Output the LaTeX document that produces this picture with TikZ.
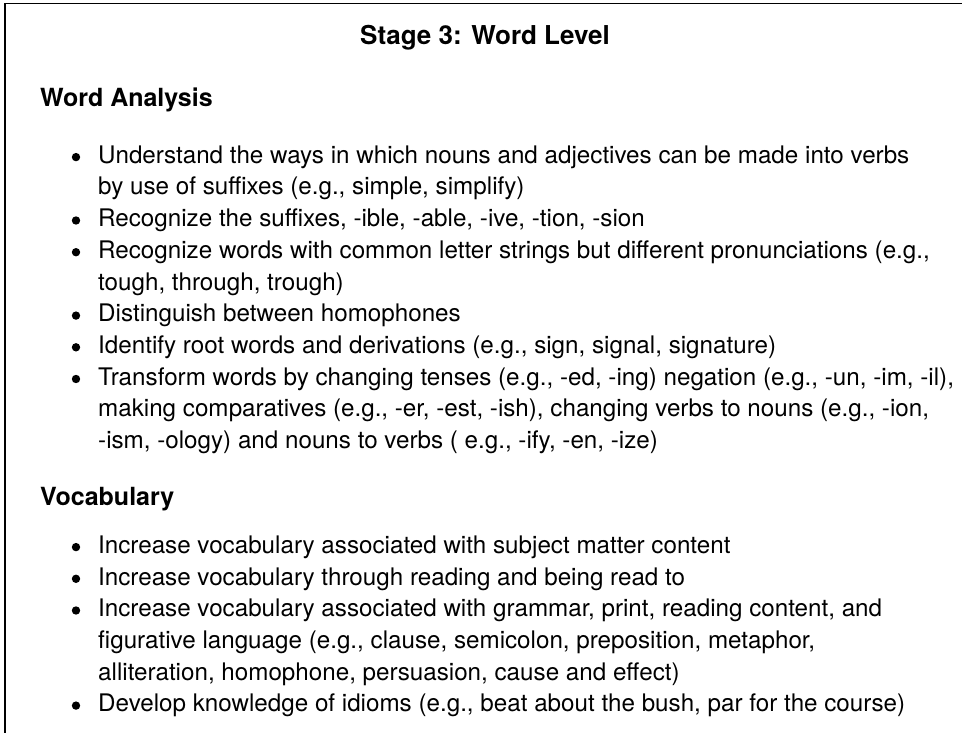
\documentclass[tikz,border=0pt]{standalone}
\usepackage{fontspec}
\setmainfont{TeX Gyre Heros}
\begin{document}
\begin{tikzpicture}[x=1pt,y=-1pt,
  frame/.style={line width=1.5pt,black},
  title/.style={anchor=base,inner sep=0pt,font=\fontsize{26}{30}\selectfont\bfseries},
  heading/.style={anchor=base west,inner sep=0pt,font=\fontsize{25}{29}\selectfont\bfseries},
  line/.style={anchor=base west,inner sep=0pt,font=\fontsize{24.2}{29}\selectfont},
  dot/.style={circle,fill=black,inner sep=0pt,minimum size=8.4pt}]
\useasboundingbox (0,0) rectangle (962,733);
\fill[white] (0,0) rectangle (962,733);
% open frame: left and top edges only
\draw[frame] (5,740) -- (5,3.5) -- (970,3.5);

\node[title] (ttl) at (485,45) {Stage 3: Word Level};

% Word Analysis
\node[heading] (hwa) at (40,106.7) {Word Analysis};
\def\lx{98}
\def\bx{76}
\node[line] (wa1a) at (\lx,163.3) {Understand the ways in which nouns and adjectives can be made into verbs};
\node[line] (wa1b) at (\lx,195.0) {by use of suffixes (e.g., simple, simplify)};
\node[line] (wa2)  at (\lx,226.7) {Recognize the suffixes, -ible, -able, -ive, -tion, -sion};
\node[line] (wa3a) at (\lx,258.4) {Recognize words with common letter strings but different pronunciations (e.g.,};
\node[line] (wa3b) at (\lx,290.1) {tough, through, trough)};
\node[line] (wa4)  at (\lx,321.8) {Distinguish between homophones};
\node[line] (wa5)  at (\lx,353.5) {Identify root words and derivations (e.g., sign, signal, signature)};
\node[line] (wa6a) at (\lx,385.2) {Transform words by changing tenses (e.g., -ed, -ing) negation (e.g., -un, -im, -il),};
\node[line] (wa6b) at (\lx,416.9) {making comparatives (e.g., -er, -est, -ish), changing verbs to nouns (e.g., -ion,};
\node[line] (wa6c) at (\lx,448.6) {-ism, -ology) and nouns to verbs ( e.g., -ify, -en, -ize)};
\foreach \yy/\nm in {163.3/1,226.7/2,258.4/3,321.8/4,353.5/5,385.2/6}
  \node[dot] (wab\nm) at (\bx,\yy-6.2) {};

% Vocabulary
\node[heading] (hvo) at (40,505.5) {Vocabulary};
\node[line] (vo1)  at (\lx,553.3) {Increase vocabulary associated with subject matter content};
\node[line] (vo2)  at (\lx,585.0) {Increase vocabulary through reading and being read to};
\node[line] (vo3a) at (\lx,616.7) {Increase vocabulary associated with grammar, print, reading content, and};
\node[line] (vo3b) at (\lx,648.4) {figurative language (e.g., clause, semicolon, preposition, metaphor,};
\node[line] (vo3c) at (\lx,680.1) {alliteration, homophone, persuasion, cause and effect)};
\node[line] (vo4)  at (\lx,711.8) {Develop knowledge of idioms (e.g., beat about the bush, par for the course)};
\foreach \yy/\nm in {553.3/1,585.0/2,616.7/3,711.8/4}
  \node[dot] (vob\nm) at (\bx,\yy-6.2) {};
\end{tikzpicture}
\end{document}
